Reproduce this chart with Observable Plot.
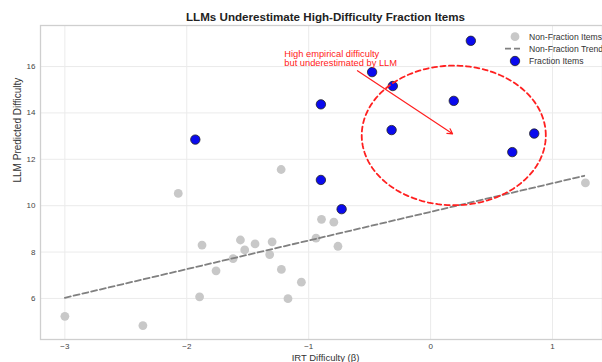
<!DOCTYPE html>
<html>
<head>
<meta charset="utf-8">
<script src="https://cdn.jsdelivr.net/npm/d3@7"></script>
<script src="https://cdn.jsdelivr.net/npm/@observablehq/plot@0.6"></script>
<style>
  html, body { margin: 0; padding: 0; background: white; overflow: hidden; }
  #chart { width: 602px; height: 362px; }
</style>
</head>
<body>
<div id="chart"></div>
<script>
// ---- data ----
const title = "LLMs Underestimate High-Difficulty Fraction Items";
const xLabel = "IRT Difficulty (β)";
const yLabel = "LLM Predicted Difficulty";
const xTicks = [-3, -2, -1, 0, 1];
const yTicks = [6, 8, 10, 12, 14, 16];

const nonFracX = [-3.00, -2.36, -2.07, -1.875, -1.895, -1.76, -1.62, -1.56, -1.525, -1.44, -1.30, -1.32, -1.224, -1.17, -1.06, -1.226, -0.895, -0.794, -0.94, -0.76, 1.27];
const nonFracY = [5.23, 4.83, 10.53, 8.30, 6.07, 7.19, 7.72, 8.52, 8.09, 8.35, 8.44, 7.89, 7.25, 5.99, 6.70, 11.56, 9.41, 9.29, 8.60, 8.25, 10.98];

const fracX = [0.33, -0.48, -0.31, -0.90, 0.19, -0.32, 0.85, 0.67, -0.90, -0.73, -1.93];
const fracY = [17.11, 15.76, 15.16, 14.37, 14.52, 13.26, 13.11, 12.31, 11.11, 9.85, 12.85];

const trendX = [-3.0, 1.26];
const trendY = [6.03, 11.29];

const annotationText = "High empirical difficulty\nbut underestimated by LLM";
const annotationPos = [-1.20, 16.35];
const arrowFrom = [-0.60, 15.82];
const arrowTo = [0.18, 13.10];
const ellipseCenter = [0.19, 13.03];
const ellipseRadii = [0.755, 3.01];

const legendLabels = ["Non-Fraction Items", "Non-Fraction Trend", "Fraction Items"];

// ---- derived tables ----
const nonFrac = nonFracX.map((x, i) => ({x, y: nonFracY[i]}));
const frac = fracX.map((x, i) => ({x, y: fracY[i]}));
const trend = trendX.map((x, i) => ({x, y: trendY[i]}));
const ellipse = d3.range(0, 361, 2).map(a => {
  const t = a * Math.PI / 180;
  return {x: ellipseCenter[0] + ellipseRadii[0] * Math.cos(t), y: ellipseCenter[1] + ellipseRadii[1] * Math.sin(t)};
});
const fmt = d => d < 0 ? "\u2212" + Math.abs(d) : String(d);

const FONT = "'Liberation Sans', Arial, Helvetica, sans-serif";
const GRAY = "#c8c8c8";
const BLUE = "#0a0aee";

const chart = Plot.plot({
  width: 602,
  height: 362,
  marginLeft: 40,
  marginRight: 0,
  marginTop: 25,
  marginBottom: 23,
  style: {fontFamily: FONT, background: "white", overflow: "visible"},
  x: {domain: [-3.2, 1.41]},
  y: {domain: [4.23, 17.77]},
  marks: [
    Plot.gridX(xTicks, {stroke: "#ebebeb", strokeOpacity: 1}),
    Plot.gridY(yTicks, {stroke: "#ebebeb", strokeOpacity: 1}),
    Plot.frame({stroke: "#cfcfcf", strokeWidth: 1.3}),
    Plot.axisX(xTicks, {tickSize: 0, tickPadding: 4, fontSize: 8, color: "#444", tickFormat: fmt, label: null}),
    Plot.axisY(yTicks, {tickSize: 0, tickPadding: 5, fontSize: 8, color: "#444", tickFormat: fmt, label: null}),
    Plot.dot(nonFrac, {x: "x", y: "y", r: 4.4, fill: GRAY}),
    Plot.line(trend, {x: "x", y: "y", stroke: "#808080", strokeWidth: 1.8, strokeDasharray: "6,3"}),
    Plot.dot(frac, {x: "x", y: "y", r: 4.7, fill: BLUE, stroke: "#222", strokeWidth: 0.8}),
    Plot.line(ellipse, {x: "x", y: "y", stroke: "#ff2020", strokeWidth: 1.8, strokeDasharray: "5,3.5"}),
    Plot.arrow([0], {x1: () => arrowFrom[0], y1: () => arrowFrom[1], x2: () => arrowTo[0], y2: () => arrowTo[1],
      stroke: "#ff2020", strokeWidth: 1.2, headLength: 7}),
    Plot.text([annotationText], {x: () => annotationPos[0], y: () => annotationPos[1], text: d => d,
      textAnchor: "start", lineAnchor: "middle", fill: "#ff2020", fontSize: 9.3, lineHeight: 1.0}),
    Plot.text([title], {text: d => d, frameAnchor: "top", dx: 4, dy: -5, lineAnchor: "bottom",
      fontSize: 11.6, fontWeight: "bold", fill: "#222"}),
    Plot.text([xLabel], {text: d => d, frameAnchor: "bottom", dx: 4, dy: 18.5, lineAnchor: "middle",
      fontSize: 9.5, fill: "#333"}),
    Plot.text([yLabel], {text: d => d, frameAnchor: "left", dx: -23, rotate: -90, lineAnchor: "middle",
      fontSize: 10, fill: "#333"})
  ]
});
document.getElementById("chart").appendChild(chart);

// ---- legend (overlay, upper right inside the axes) ----
const svg = d3.select(chart);
const lg = svg.append("g").attr("font-family", FONT).attr("font-size", 8.6).attr("fill", "#333")
  .attr("text-anchor", "start");
const rowY = [36.7, 48.7, 61];
lg.append("circle").attr("cx", 515).attr("cy", rowY[0]).attr("r", 4.4).attr("fill", GRAY);
lg.append("line").attr("x1", 505).attr("x2", 521).attr("y1", rowY[1]).attr("y2", rowY[1])
  .attr("stroke", "#808080").attr("stroke-width", 1.8).attr("stroke-dasharray", "6,3");
lg.append("circle").attr("cx", 515).attr("cy", rowY[2]).attr("r", 4.7).attr("fill", BLUE)
  .attr("stroke", "#222").attr("stroke-width", 0.8);
legendLabels.forEach((t, i) => {
  lg.append("text").attr("x", 529).attr("y", rowY[i]).attr("dy", "0.35em").text(t);
});
</script>
</body>
</html>
